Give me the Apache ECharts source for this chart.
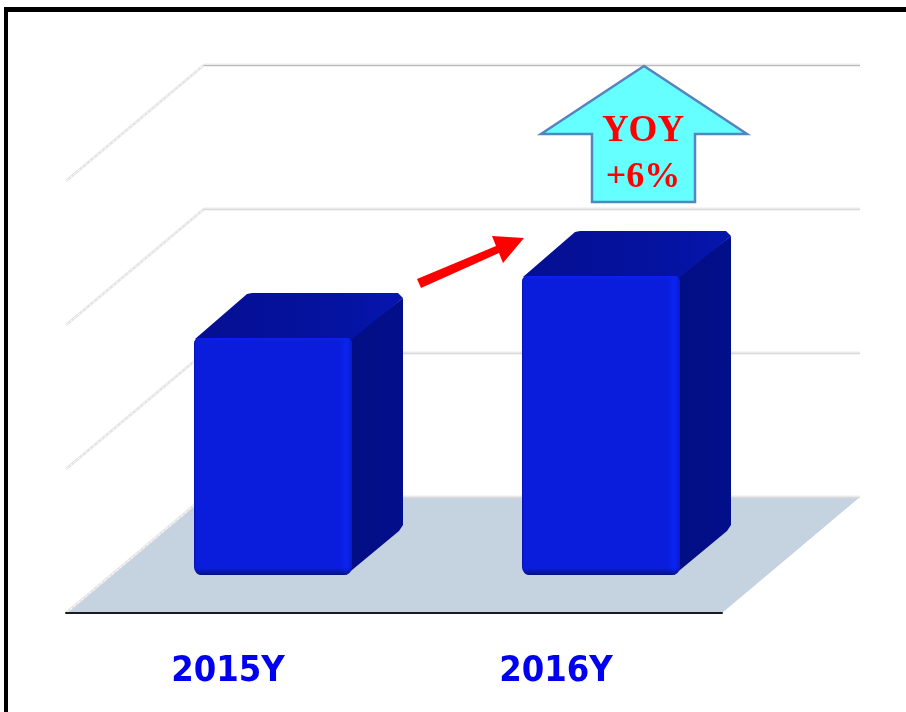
<!DOCTYPE html>
<html>
<head>
<meta charset="utf-8">
<style>html,body{margin:0;padding:0;background:#fff}#chart{width:906px;height:712px}</style>
<script src="https://cdn.jsdelivr.net/npm/echarts@6/dist/echarts.min.js"></script>
</head>
<body>
<div id="chart"></div>
<script>
var categories = ['2015Y', '2016Y'];
var barValues = [1.646, 2.076];
var wallTicks = [0, 1, 2, 3];
var yoyLines = ['YOY', '+6%'];

var chart = echarts.init(document.getElementById('chart'), null, {renderer: 'canvas'});
var depthX = 138, depthY = 116;

function renderWall(params, api) {
  var v = api.value(1), cs = params.coordSys;
  var y = api.coord([0, v])[1];
  var fx = cs.x, bx = cs.x + depthX, ex = cs.x + cs.width + depthX;
  var by = y - depthY, children = [];
  if (v === 0) {
    children.push({type: 'polygon', shape: {points: [[fx, y], [cs.x + cs.width, y], [ex, by], [bx, by]]},
      style: {fill: '#C5D2DF'}});
  }
  var top = v === 3;
  children.push(
    {type: 'polyline', shape: {points: [[fx, y], [bx, by], [ex, by]]},
      style: {stroke: '#E2E2E2', lineWidth: 2.4, fill: null}},
    {type: 'polyline', shape: {points: [[fx, y], [bx, by]]},
      style: {stroke: '#FFFFFF', lineWidth: 1, fill: null, lineDash: [3, 2]}},
    {type: 'line', shape: {x1: bx, y1: by + 0.6, x2: ex, y2: by + 0.6},
      style: {stroke: top ? '#B4B4B4' : '#D8D8D8', lineWidth: 1}},
    {type: 'line', shape: {x1: bx, y1: by - 0.9, x2: ex, y2: by - 0.9},
      style: {stroke: '#F0F0F0', lineWidth: 1}}
  );
  return {type: 'group', children: children};
}

function renderBar(params, api) {
  var i = api.value(0), v = api.value(1);
  var c = api.coord([i, 0]), t = api.coord([i, v]);
  var lift = 38, shift = 43, w = 158, dx = 51, dy = 45;
  var x0 = c[0] + shift - w / 2, x1 = x0 + w;
  var bot = c[1] - lift, top = t[1] - lift;
  return {type: 'group', children: [
    {type: 'polygon', shape: {points: [[x1 - 2, top], [x1 + dx, top - dy + 5], [x1 + dx, bot - 50], [x1 + dx - 4, bot - 44], [x1 - 6, bot]]},
      style: {fill: new echarts.graphic.LinearGradient(0, 0, 1, 0, [
        {offset: 0, color: '#020E82'}, {offset: 1, color: '#020F8C'}])}},
    {type: 'polygon', shape: {points: [[x0 + 1, top + 1], [x0 + 53, top - dy + 1], [x0 + 58, top - dy], [x1 + dx - 5, top - dy], [x1 + dx, top - dy + 5], [x1, top + 1]]},
      style: {fill: new echarts.graphic.LinearGradient(0, 0, 1, 0, [
        {offset: 0, color: '#040F92'}, {offset: 0.6, color: '#05129E'}, {offset: 1, color: '#0616AE'}])}},
    {type: 'rect', shape: {x: x0, y: top, width: w, height: bot - top, r: [5, 5, 8, 8]},
      style: {fill: new echarts.graphic.LinearGradient(0, 0, 1, 0, [
        {offset: 0, color: '#0712A8'}, {offset: 0.012, color: '#0A1DDC'}, {offset: 0.92, color: '#0A1DDC'},
        {offset: 0.965, color: '#0A24F2'}, {offset: 1, color: '#0A1AC8'}])}},
    {type: 'rect', shape: {x: x0 + 2, y: top, width: w - 4, height: 5, r: [4, 4, 0, 0]},
      style: {fill: new echarts.graphic.LinearGradient(0, 0, 0, 1, [
        {offset: 0, color: 'rgba(10,36,240,0.9)'}, {offset: 1, color: 'rgba(10,29,220,0)'}])}},
    {type: 'rect', shape: {x: x0 + 1, y: bot - 7, width: w - 2, height: 7, r: [0, 0, 8, 6]},
      style: {fill: new echarts.graphic.LinearGradient(0, 0, 0, 1, [
        {offset: 0, color: 'rgba(4,16,140,0)'}, {offset: 1, color: 'rgba(4,16,120,0.95)'}])}}
  ]};
}

chart.setOption({
  animation: false,
  backgroundColor: '#FFFFFF',
  grid: {left: 66, right: 184, top: 181, bottom: 99, containLabel: false},
  xAxis: {
    type: 'category', data: categories,
    axisTick: {show: false},
    axisLine: {onZero: false, lineStyle: {color: '#1C1C1C', width: 2}},
    axisLabel: {color: '#0000F0', fontFamily: '"DejaVu Sans Condensed"', fontWeight: 'bold', fontSize: 36, margin: 41, padding: [0, 4, 0, 0]},
    z: 5
  },
  yAxis: {type: 'value', min: 0, max: 3, interval: 1, show: false, splitLine: {show: false}},
  series: [
    {type: 'custom', name: 'wall', renderItem: renderWall, encode: {x: 0, y: 1},
      data: wallTicks.map(function (t) { return [0, t]; }), z: 1, silent: true},
    {type: 'custom', name: 'bars', renderItem: renderBar, encode: {x: 0, y: 1},
      data: barValues.map(function (v, i) { return [i, v]; }), z: 3}
  ],
  graphic: [
    {type: 'rect', shape: {x: 4, y: 7, width: 902, height: 5}, style: {fill: '#000'}, z: 20},
    {type: 'rect', shape: {x: 4, y: 7, width: 4, height: 705}, style: {fill: '#000'}, z: 20},
    {type: 'polygon', shape: {points: [[417, 279], [496, 246], [492, 236], [524, 238], [503, 263], [499, 253], [421, 288]]},
      style: {fill: '#FF0000'}, z: 20},
    {type: 'polygon', shape: {points: [[644, 66], [541, 134], [592, 134], [592, 202], [695, 202], [695, 134], [747, 134]]},
      style: {fill: '#66FFFF', stroke: '#5585BE', lineWidth: 2.5, lineJoin: 'miter'}, z: 20},
    {type: 'text', x: 643, y: 131, z: 21,
      style: {text: yoyLines[0], fill: '#FF0000', fontFamily: '"Liberation Serif"', fontWeight: 'bold', fontSize: 37, align: 'center', verticalAlign: 'middle'}},
    {type: 'text', x: 643, y: 178, z: 21,
      style: {text: yoyLines[1], fill: '#FF0000', fontFamily: '"Liberation Serif"', fontWeight: 'bold', fontSize: 36, align: 'center', verticalAlign: 'middle'}}
  ]
});
</script>
</body>
</html>
